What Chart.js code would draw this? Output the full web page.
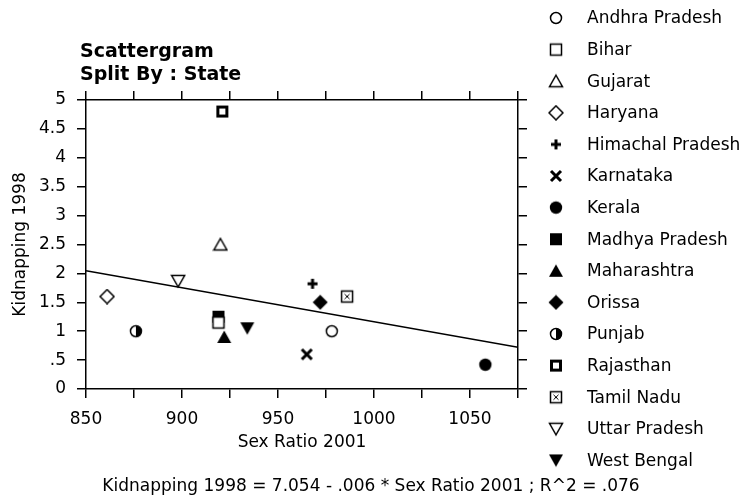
<!DOCTYPE html>
<html>
<head>
<meta charset="utf-8">
<script src="https://cdn.jsdelivr.net/npm/chart.js@4.4.1/dist/chart.umd.min.js"></script>
<style>
  html, body { margin: 0; padding: 0; background: #fff; }
  #wrap { width: 747px; height: 501px; }
</style>
</head>
<body>
<div id="wrap"><canvas id="chart" width="747" height="501"></canvas></div>
<script>
// data
const states = [
    "Andhra Pradesh", "Bihar", "Gujarat", "Haryana", "Himachal Pradesh",
    "Karnataka", "Kerala", "Madhya Pradesh", "Maharashtra", "Orissa",
    "Punjab", "Rajasthan", "Tamil Nadu", "Uttar Pradesh", "West Bengal"
];
const sexRatio2001 = [978, 919, 920, 861, 968, 965, 1058, 919, 922, 972, 876, 921, 986, 898, 934];
const kidnapping1998 = [1.0, 1.15, 2.5, 1.6, 1.82, 0.6, 0.42, 1.25, 0.9, 1.5, 1.0, 4.8, 1.6, 1.87, 1.05];
const markerKinds = [
    "circle", "square", "triangle", "diamond", "plus",
    "cross", "circleFill", "squareFill", "triangleFill", "diamondFill",
    "halfCircle", "squareBold", "squareX", "triangleDown", "triangleDownFill"
];
const xRange = [850, 1075];
const yRange = [0, 5];
const fitIntercept = 7.054;
const fitSlope = -0.00589;
const fitText = "Kidnapping 1998 = 7.054 - .006 * Sex Ratio 2001 ; R^2 = .076";
const titleLines = ["Scattergram", "Split By : State"];

(function () {
    Chart.defaults.font.family = "'DejaVu Sans', sans-serif";
    Chart.defaults.font.size = 17;
    Chart.defaults.color = "#000";

    /* ---------- marker glyphs (used by points and legend) ---------- */
    function marker(kind) {
        const c = document.createElement("canvas");
        c.width = 16;
        c.height = 16;
        const g = c.getContext("2d");
        g.strokeStyle = "#000";
        g.fillStyle = "#000";
        g.lineWidth = 1.5;

        function poly(pts, filled) {
            g.beginPath();
            g.moveTo(pts[0][0], pts[0][1]);
            for (let i = 1; i < pts.length; i++) g.lineTo(pts[i][0], pts[i][1]);
            g.closePath();
            if (filled) {
                g.fill();
            } else {
                g.fillStyle = "#fff";
                g.fill();
                g.stroke();
                g.fillStyle = "#000";
            }
        }

        switch (kind) {
            case "circle":
                g.beginPath(); g.arc(8, 8, 5.5, 0, Math.PI * 2);
                g.fillStyle = "#fff"; g.fill(); g.stroke();
                break;
            case "square":
                g.fillStyle = "#fff"; g.fillRect(2.5, 2.5, 11, 11);
                g.strokeRect(2.5, 2.5, 11, 11);
                break;
            case "triangle":
                poly([[8, 2], [14.5, 13.5], [1.5, 13.5]], false);
                break;
            case "diamond":
                poly([[8, 1], [15, 8], [8, 15], [1, 8]], false);
                break;
            case "plus":
                g.fillRect(6.5, 3, 3, 10);
                g.fillRect(3, 6.5, 10, 3);
                break;
            case "cross":
                g.lineWidth = 3;
                g.beginPath();
                g.moveTo(3, 3); g.lineTo(13, 13);
                g.moveTo(13, 3); g.lineTo(3, 13);
                g.stroke();
                break;
            case "circleFill":
                g.beginPath(); g.arc(8, 8, 6.2, 0, Math.PI * 2); g.fill();
                break;
            case "squareFill":
                g.fillRect(2, 2, 12, 12);
                break;
            case "triangleFill":
                poly([[8, 1.5], [15, 14], [1, 14]], true);
                break;
            case "diamondFill":
                poly([[8, 0.5], [15.5, 8], [8, 15.5], [0.5, 8]], true);
                break;
            case "halfCircle":
                g.beginPath(); g.arc(8, 8, 5.5, 0, Math.PI * 2);
                g.fillStyle = "#fff"; g.fill(); g.stroke();
                g.fillStyle = "#000";
                g.beginPath(); g.arc(8, 8, 5.8, -Math.PI / 2, Math.PI / 2); g.closePath(); g.fill();
                break;
            case "squareBold":
                g.lineWidth = 3;
                g.fillStyle = "#fff"; g.fillRect(3.5, 3.5, 9, 9);
                g.strokeRect(3.5, 3.5, 9, 9);
                break;
            case "squareX":
                g.fillStyle = "#fff"; g.fillRect(2.5, 2.5, 11, 11);
                g.strokeRect(2.5, 2.5, 11, 11);
                g.lineWidth = 1;
                g.beginPath();
                g.moveTo(5.5, 5.5); g.lineTo(10.5, 10.5);
                g.moveTo(10.5, 5.5); g.lineTo(5.5, 10.5);
                g.stroke();
                break;
            case "triangleDown":
                poly([[1.5, 2.5], [14.5, 2.5], [8, 14]], false);
                break;
            case "triangleDownFill":
                poly([[1, 2], [15, 2], [8, 14.5]], true);
                break;
        }
        return c;
    }

    /* ---------- datasets ---------- */
    const pointSets = states.map(function (name, i) {
        return {
            label: name,
            data: [{ x: sexRatio2001[i], y: kidnapping1998[i] }],
            pointStyle: marker(markerKinds[i]),
            pointRadius: 8,
            showLine: false,
        };
    });

    const fitLine = {
        type: "line",
        label: "fit",
        data: xRange.map(function (x) {
            return { x: x, y: fitIntercept + fitSlope * x };
        }),
        borderColor: "#000",
        borderWidth: 1.5,
        pointRadius: 0,
        fill: false,
    };

    /* ---------- titles, legend and equation ---------- */
    const textPlugin = {
        id: "scatterText",
        afterDraw: function (chart) {
            const ctx = chart.ctx;
            ctx.save();
            ctx.fillStyle = "#000";

            ctx.font = "bold 19px 'DejaVu Sans', sans-serif";
            ctx.textAlign = "left";
            ctx.textBaseline = "alphabetic";
            ctx.fillText(titleLines[0], 80, 57);
            ctx.fillText(titleLines[1], 80, 80);

            ctx.font = "17px 'DejaVu Sans', sans-serif";
            ctx.textBaseline = "middle";
            chart.data.datasets.forEach(function (ds, i) {
                if (!ds.pointStyle || ds.type === "line") return;
                const y = 18 + i * 31.6;
                const img = ds.pointStyle;
                ctx.drawImage(img, 556 - img.width / 2, y - img.height / 2);
                ctx.fillText(ds.label, 587, y + 1);
            });

            ctx.textAlign = "center";
            ctx.fillText(fitText, 371, 487);
            ctx.restore();
        },
    };

    const axisLine = { display: true, color: "#000", width: 1.5 };
    const tickGrid = {
        drawOnChartArea: false,
        drawTicks: true,
        tickLength: 9,
        color: "#000",
        lineWidth: 1.5,
    };

    new Chart(document.getElementById("chart").getContext("2d"), {
        type: "scatter",
        data: { datasets: pointSets.concat([fitLine]) },
        plugins: [textPlugin],
        options: {
            responsive: false,
            animation: false,
            layout: { padding: 0 },
            plugins: {
                legend: { display: false },
                tooltip: { enabled: false },
            },
            scales: {
                x: {
                    type: "linear",
                    position: "bottom",
                    min: xRange[0],
                    max: xRange[1],
                    border: axisLine,
                    grid: tickGrid,
                    ticks: {
                        stepSize: 25,
                        autoSkip: false,
                        maxRotation: 0,
                        padding: 11,
                        callback: function (v) {
                            return v % 50 === 0 ? String(v) : "";
                        },
                    },
                    title: {
                        display: true,
                        text: "Sex Ratio 2001",
                        padding: { top: 0, bottom: 48 },
                    },
                    afterFit: function (s) { s.height = 112; },
                },
                xTop: {
                    type: "linear",
                    position: "top",
                    min: xRange[0],
                    max: xRange[1],
                    border: axisLine,
                    grid: tickGrid,
                    ticks: { stepSize: 25, autoSkip: false, display: false },
                    afterFit: function (s) { s.height = 100; },
                },
                y: {
                    type: "linear",
                    position: "left",
                    min: yRange[0],
                    max: yRange[1],
                    border: axisLine,
                    grid: tickGrid,
                    ticks: {
                        stepSize: 0.5,
                        autoSkip: false,
                        padding: 11,
                        callback: function (v) {
                            return String(v).replace(/^0\./, ".");
                        },
                    },
                    title: {
                        display: true,
                        text: "Kidnapping 1998",
                        padding: { top: 10, bottom: 0 },
                    },
                    afterFit: function (s) { s.width = 86; },
                },
                yRight: {
                    type: "linear",
                    position: "right",
                    min: yRange[0],
                    max: yRange[1],
                    border: axisLine,
                    grid: tickGrid,
                    ticks: { stepSize: 0.5, autoSkip: false, display: false },
                    afterFit: function (s) { s.width = 229; },
                },
            },
        },
    });
})();
</script>
</body>
</html>
